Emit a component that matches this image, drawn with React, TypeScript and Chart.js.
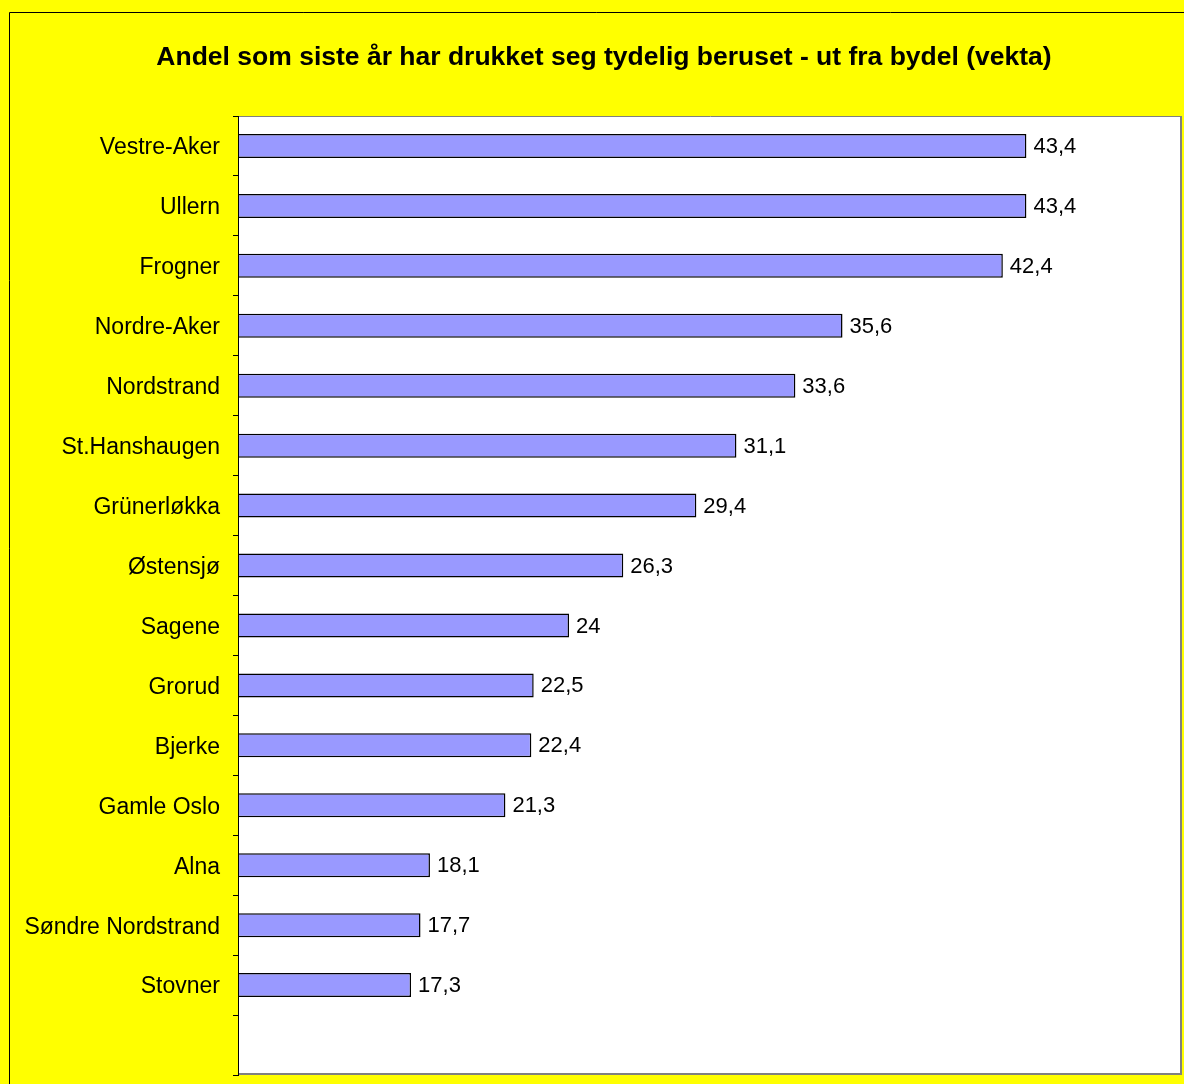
import React, { useEffect, useRef } from "react";
import { Chart, registerables } from "chart.js";

Chart.register(...registerables);

const TITLE = "Andel som siste år har drukket seg tydelig beruset - ut fra bydel (vekta)";
const categories = [
  "Vestre-Aker",
  "Ullern",
  "Frogner",
  "Nordre-Aker",
  "Nordstrand",
  "St.Hanshaugen",
  "Grünerløkka",
  "Østensjø",
  "Sagene",
  "Grorud",
  "Bjerke",
  "Gamle Oslo",
  "Alna",
  "Søndre Nordstrand",
  "Stovner",
  "",
];
const values: (number | null)[] = [43.4, 43.4, 42.4, 35.6, 33.6, 31.1, 29.4, 26.3, 24, 22.5, 22.4, 21.3, 18.1, 17.7, 17.3, null];
const axisMin = 10;
const axisMax = 50;

const FONT = '"Liberation Sans", Arial, sans-serif';

export default function App() {
  const ref = useRef<HTMLCanvasElement>(null);
  useEffect(() => {
    document.body.style.margin = "0";
    const canvas = ref.current!;
    const bgPlugin = {
      id: "bg",
      beforeDraw(chart: any) {
        const { ctx, width, height, chartArea } = chart;
        ctx.save();
        ctx.fillStyle = "#FFFF00";
        ctx.fillRect(0, 0, width, height);
        ctx.fillStyle = "#FFFFFF";
        ctx.fillRect(chartArea.left, chartArea.top, chartArea.right - chartArea.left, chartArea.bottom - chartArea.top);
        ctx.strokeStyle = "#000";
        ctx.lineWidth = 1;
        ctx.beginPath();
        ctx.moveTo(9.5, height);
        ctx.lineTo(9.5, 12.5);
        ctx.lineTo(width, 12.5);
        ctx.stroke();
        ctx.fillStyle = "#000";
        ctx.font = `bold 26.5px ${FONT}`;
        ctx.textAlign = "center";
        ctx.textBaseline = "middle";
        ctx.fillText(TITLE, 604, 58);
        ctx.restore();
      },
      afterDraw(chart: any) {
        const { ctx, chartArea } = chart;
        ctx.save();
        ctx.strokeStyle = "#808080";
        ctx.lineWidth = 1;
        ctx.beginPath();
        ctx.moveTo(chartArea.left, chartArea.top + 0.5);
        ctx.lineTo(chartArea.right, chartArea.top + 0.5);
        ctx.stroke();
        ctx.lineWidth = 2;
        ctx.beginPath();
        ctx.moveTo(chartArea.right - 1, chartArea.top);
        ctx.lineTo(chartArea.right - 1, chartArea.bottom - 1);
        ctx.lineTo(chartArea.left, chartArea.bottom - 1);
        ctx.stroke();
        ctx.strokeStyle = "#000";
        ctx.lineWidth = 1;
        ctx.beginPath();
        ctx.moveTo(chartArea.left - 0.5, chartArea.top);
        ctx.lineTo(chartArea.left - 0.5, chartArea.bottom);
        ctx.stroke();
        ctx.restore();
      },
    };
    const labelPlugin = {
      id: "vals",
      afterDatasetsDraw(chart: any) {
        const { ctx } = chart;
        const meta = chart.getDatasetMeta(0);
        ctx.save();
        ctx.fillStyle = "#000";
        ctx.font = `22px ${FONT}`;
        ctx.textAlign = "left";
        ctx.textBaseline = "middle";
        meta.data.forEach((el: any, i: number) => {
          const v = values[i];
          if (v === null || v === undefined) return;
          ctx.fillText(String(v).replace(".", ","), el.x + 7, el.y + 1);
        });
        ctx.restore();
      },
    };
    const chart = new Chart(canvas, {
      type: "bar",
      data: {
        labels: categories,
        datasets: [
          {
            data: values,
            base: axisMin,
            backgroundColor: "#9999FF",
            borderColor: "#000000",
            borderWidth: 1.5,
            borderSkipped: "start",
            barPercentage: 0.4,
            categoryPercentage: 1,
          } as any,
        ],
      },
      options: {
        indexAxis: "y",
        responsive: false,
        animation: false,
        layout: { padding: { top: 116, right: 2, bottom: 9, left: 0 } },
        plugins: { legend: { display: false }, tooltip: { enabled: false }, title: { display: false } },
        scales: {
          x: { display: false, min: axisMin, max: axisMax },
          y: {
            type: "category",
            offset: true,
            afterFit(scale: any) {
              scale.width = 239;
              scale.paddingTop = 0;
              scale.paddingBottom = 0;
            },
            grid: { offset: true, drawOnChartArea: false, drawTicks: true, tickLength: 6, color: "#000", lineWidth: 1 },
            border: { display: false },
            ticks: { padding: 13, labelOffset: 2, color: "#000", font: { size: 23, family: FONT }, autoSkip: false },
          },
        },
      },
      plugins: [bgPlugin, labelPlugin],
    });
    return () => chart.destroy();
  }, []);
  return (
    <div style={{ width: 1184, height: 1084 }}>
      <canvas ref={ref} width={1184} height={1084} style={{ display: "block" }} />
    </div>
  );
}
